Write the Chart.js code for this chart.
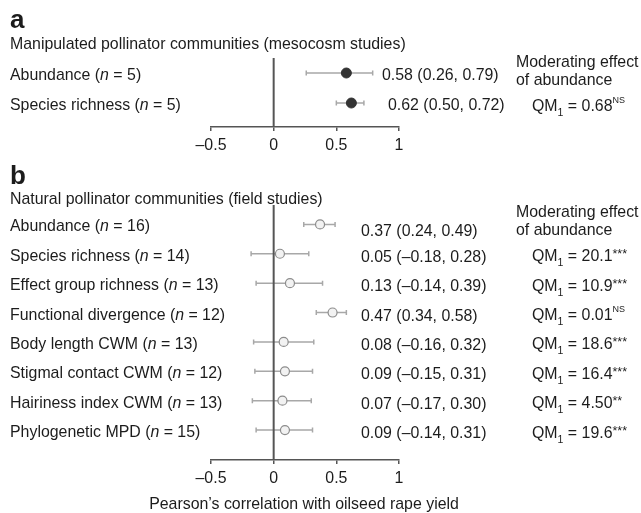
<!DOCTYPE html>
<html>
<head>
<meta charset="utf-8">
<script src="https://cdn.jsdelivr.net/npm/chart.js@4.4.1/dist/chart.umd.min.js"></script>
<style>
  html, body { margin: 0; padding: 0; background: #fff; }
  #wrap { position: relative; width: 641px; height: 513px; overflow: hidden; }
  canvas { position: absolute; left: 0; top: 0; }
</style>
</head>
<body>
<div id="wrap">
  <canvas id="chartA" width="641" height="513"></canvas>
  <canvas id="chartB" width="641" height="513"></canvas>
</div>
<script>
// ── DATA ─────────────────────────────
const xTicks = [-0.5, 0, 0.5, 1];

// a: mesocosm studies
const aLabels = ['Abundance', 'Species richness'];
const aN      = [5, 5];
const aEst    = [0.58, 0.62];
const aLo     = [0.26, 0.50];
const aHi     = [0.79, 0.72];
const aQM     = [null, '0.68'];
const aSig    = [null, 'NS'];

// b: field studies
const bLabels = ['Abundance', 'Species richness', 'Effect group richness', 'Functional divergence',
                 'Body length CWM', 'Stigmal contact CWM', 'Hairiness index CWM', 'Phylogenetic MPD'];
const bN   = [16, 14, 13, 12, 13, 12, 13, 15];
const bEst = [0.37, 0.05, 0.13, 0.47, 0.08, 0.09, 0.07, 0.09];
const bLo  = [0.24, -0.18, -0.14, 0.34, -0.16, -0.15, -0.17, -0.14];
const bHi  = [0.49, 0.28, 0.39, 0.58, 0.32, 0.31, 0.30, 0.31];
const bQM  = [null, '20.1', '10.9', '0.01', '18.6', '16.4', '4.50', '19.6'];
const bSig = [null, '***', '***', 'NS', '***', '***', '**', '***'];

// ── STYLE ────────────────────────────
const FONT = '"Liberation Sans", Arial, Helvetica, sans-serif';
const FS = 15.9;
const TXT = '#1c1c1c';
const AXC = '#555';

const fmt = v => (v < 0 ? '–' : '') + Math.abs(v).toFixed(2);

// draw a run of text pieces (italic / sub / sup) left to right
function rich(ctx, x, y, segs) {
  ctx.textAlign = 'left';
  ctx.textBaseline = 'alphabetic';
  ctx.fillStyle = TXT;
  segs.forEach(s => {
    let size = FS, dy = 0;
    if (s.sub) { size = 10.5; dy = 5; }
    if (s.sup) {
      const ns = s.t === 'NS';
      size = ns ? 9 : 12.5;
      dy = ns ? -8 : -3;
    }
    ctx.font = `${s.i ? 'italic ' : ''}${s.b ? 'bold ' : ''}${s.size || size}px ${FONT}`;
    ctx.fillText(s.t, x, y + dy);
    x += ctx.measureText(s.t).width;
  });
}

const forestPlugin = {
  id: 'forest',
  beforeDatasetsDraw(chart, args, o) {
    const { ctx, chartArea: ca, scales: { x, y } } = chart;
    ctx.save();
    // CI whiskers
    ctx.strokeStyle = '#a8a8a8';
    ctx.lineWidth = 1.5;
    o.lo.forEach((lo, i) => {
      const py = y.getPixelForValue(i);
      const x1 = x.getPixelForValue(lo), x2 = x.getPixelForValue(o.hi[i]);
      ctx.beginPath();
      ctx.moveTo(x1, py); ctx.lineTo(x2, py);
      ctx.moveTo(x1, py - 2.5); ctx.lineTo(x1, py + 2.5);
      ctx.moveTo(x2, py - 2.5); ctx.lineTo(x2, py + 2.5);
      ctx.stroke();
    });
    // zero line
    const zx = x.getPixelForValue(0);
    ctx.strokeStyle = AXC;
    ctx.lineWidth = 2;
    ctx.beginPath(); ctx.moveTo(zx, ca.top); ctx.lineTo(zx, ca.bottom); ctx.stroke();
    ctx.restore();
  },
  afterDraw(chart, args, o) {
    const { ctx, scales: { y } } = chart;
    ctx.save();
    rich(ctx, 10, o.letterY, [{ t: o.letter, b: true, size: 26 }]);
    rich(ctx, 10, o.titleY, [{ t: o.title }]);
    o.labels.forEach((lab, i) => {
      const py = y.getPixelForValue(i);
      rich(ctx, 10, py + 7, [{ t: lab + ' (' }, { t: 'n', i: true }, { t: ' = ' + o.n[i] + ')' }]);
      rich(ctx, o.estX[i], py + o.estDy[i],
           [{ t: `${fmt(o.est[i])} (${fmt(o.lo[i])}, ${fmt(o.hi[i])})` }]);
      if (o.qm[i]) {
        rich(ctx, 532, py + 7.5, [{ t: 'QM' }, { t: '1', sub: true }, { t: ' = ' + o.qm[i] }, { t: o.sig[i], sup: true }]);
      }
    });
    rich(ctx, 516, o.headY[0], [{ t: 'Moderating effect' }]);
    rich(ctx, 516, o.headY[1], [{ t: 'of abundance' }]);
    if (o.axisTitle) {
      ctx.font = `${FS}px ${FONT}`;
      ctx.textAlign = 'center';
      ctx.fillText(o.axisTitle, 304, 509);
    }
    ctx.restore();
  }
};

function makePanel(id, cfg) {
  return new Chart(document.getElementById(id), {
    type: 'scatter',
    data: {
      datasets: [{
        data: cfg.est.map((v, i) => ({ x: v, y: i })),
        pointRadius: cfg.radius,
        pointHoverRadius: cfg.radius,
        backgroundColor: cfg.fill,
        borderColor: cfg.stroke,
        borderWidth: cfg.strokeW
      }]
    },
    options: {
      responsive: false,
      animation: false,
      events: [],
      layout: { padding: { left: 211, right: 242, top: cfg.top, bottom: cfg.bottom } },
      scales: {
        x: {
          type: 'linear', min: -0.5, max: 1,
          afterBuildTicks: s => { s.ticks = xTicks.map(v => ({ value: v })); },
          afterFit: s => { s.height = 40; },
          ticks: {
            callback: v => (v < 0 ? '–' + Math.abs(v) : String(v)),
            color: TXT, font: { family: FONT, size: FS }, padding: 5,
            maxRotation: 0, autoSkip: false
          },
          grid: { drawOnChartArea: false, tickLength: 4, color: AXC, lineWidth: 1.5 },
          border: { color: AXC, width: 1.5 }
        },
        y: { type: 'linear', display: false, reverse: true, min: cfg.ymin, max: cfg.ymax }
      },
      plugins: {
        legend: { display: false },
        tooltip: { enabled: false },
        forest: cfg.text
      }
    },
    plugins: [forestPlugin]
  });
}

makePanel('chartA', {
  est: aEst, radius: 5, fill: '#333', stroke: '#333', strokeW: 1,
  top: 58, bottom: 513 - 127 - 40, ymin: -0.5, ymax: 1.8,
  text: {
    letter: 'a', letterY: 28, title: 'Manipulated pollinator communities (mesocosm studies)', titleY: 48.5,
    labels: aLabels, n: aN, est: aEst, lo: aLo, hi: aHi, qm: aQM, sig: aSig,
    estX: [382, 388], estDy: [6.5, 7], headY: [67, 85]
  }
});

makePanel('chartB', {
  est: bEst, radius: 4.5, fill: '#f2f2f2', stroke: '#8c8c8c', strokeW: 1.2,
  top: 205, bottom: 513 - 460 - 40, ymin: -0.66, ymax: 8.02,
  text: {
    letter: 'b', letterY: 184, title: 'Natural pollinator communities (field studies)', titleY: 204,
    labels: bLabels, n: bN, est: bEst, lo: bLo, hi: bHi, qm: bQM, sig: bSig,
    estX: bLabels.map(() => 361), estDy: [11.5, 8, 8, 8, 8, 8, 8, 8], headY: [216.5, 235],
    axisTitle: 'Pearson’s correlation with oilseed rape yield'
  }
});
</script>
</body>
</html>
